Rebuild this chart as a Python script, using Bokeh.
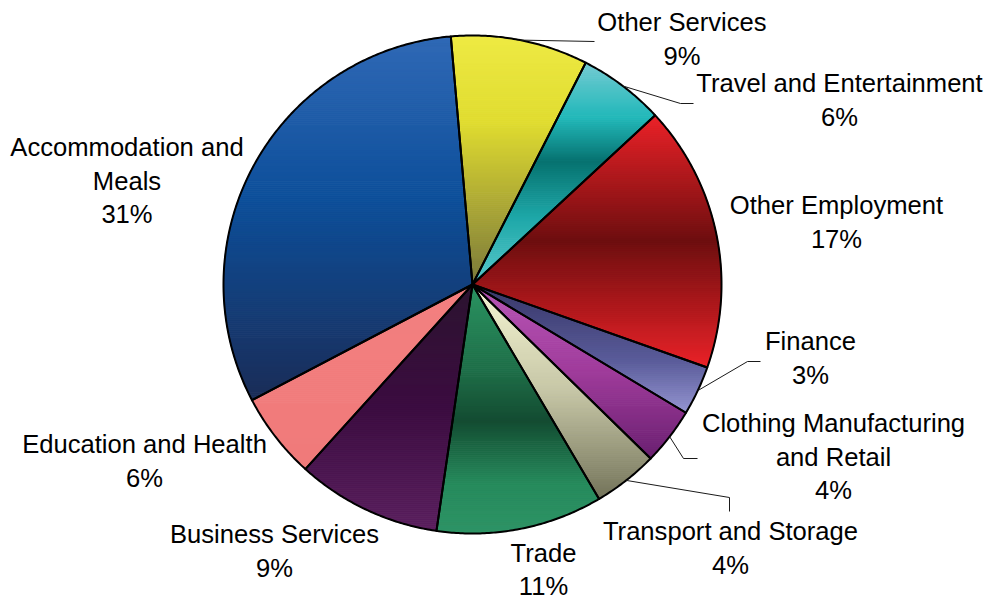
import math
from bokeh.plotting import figure
from bokeh.models import Range1d
from bokeh.core.properties import value
from bokeh.embed import file_html
from bokeh.resources import INLINE

# ---------------- data ----------------
categories = [
    "Other Services",
    "Travel and Entertainment",
    "Other Employment",
    "Finance",
    "Clothing Manufacturing\nand Retail",
    "Transport and Storage",
    "Trade",
    "Business Services",
    "Education and Health",
    "Accommodation and\nMeals",
]
shares = [8.9, 5.6, 17.3, 3.2, 3.7, 4.2, 10.8, 9.4, 5.6, 31.3]

# ---------------- styles / layout ----------------
W, H = 984, 599
CX, CY, R = 472.0, 284.0, 249.0
START_DEG = -5.0          # clockwise from 12 o'clock
FONT = "Liberation Sans"
FONT_SIZE = 25.6
LINE_STEP = 33.5

# vertical gradient stops per slice (t from top of slice bbox to bottom)
gradients = [
    [(0.0, "#eeea44"), (0.35, "#e0dc30"), (0.7, "#a9a536"), (1.0, "#7b7a3c")],
    [(0.0, "#74cbd3"), (0.25, "#22b8b9"), (0.45, "#077270"), (0.7, "#1ea8a8"), (1.0, "#5ac8cc")],
    [(0.0, "#ec2228"), (0.5, "#6e0f10"), (1.0, "#ea2228")],
    [(0.0, "#363666"), (0.6, "#5a5c9a"), (1.0, "#9494d0")],
    [(0.0, "#b857b6"), (0.5, "#a03c9c"), (1.0, "#6a2070")],
    [(0.0, "#f7f7d4"), (0.5, "#c6c6a6"), (1.0, "#74745a")],
    [(0.0, "#2b9462"), (0.35, "#1e6e48"), (0.55, "#144c32"), (0.8, "#268a5c"), (1.0, "#2e9466")],
    [(0.0, "#2c1430"), (0.5, "#3b0c40"), (1.0, "#5a1f5e")],
    [(0.0, "#f38080"), (1.0, "#f07a7a")],
    [(0.0, "#3069b6"), (0.45, "#0d4f9a"), (1.0, "#1b2d58")],
]

# label anchors: centre x, baseline of first line
label_pos = [
    (681.5, 21.5), (839, 82.5), (836, 204.5), (810, 340.5), (833, 422.5),
    (730, 530.5), (543, 552.0), (274, 533.5), (144, 443.5), (126.5, 146.5),
]
# leader line bend / end points (None = no leader)
leaders = [
    [(594, 41)],
    [(680, 103), (693, 103)],
    None,
    [(747, 361), (760, 361)],
    [(683, 458), (697, 458)],
    [(729, 497), (729, 511)],
    None, None, None, None,
]


def hex_to_rgb(h):
    h = h.lstrip("#")
    return tuple(int(h[i:i + 2], 16) for i in (0, 2, 4))


def interp(stops, t):
    t = min(max(t, 0.0), 1.0)
    for (t0, c0), (t1, c1) in zip(stops[:-1], stops[1:]):
        if t <= t1:
            f = 0.0 if t1 == t0 else (t - t0) / (t1 - t0)
            a, b = hex_to_rgb(c0), hex_to_rgb(c1)
            return "#%02x%02x%02x" % tuple(int(round(a[i] + (b[i] - a[i]) * f)) for i in range(3))
    return stops[-1][1]


def pt(theta_deg, r=R):
    th = math.radians(theta_deg)
    return CX + r * math.sin(th), CY - r * math.cos(th)


def clip(poly, yv, keep_ge):
    out = []
    n = len(poly)
    for i in range(n):
        cur = poly[i]
        prv = poly[i - 1]
        cin = cur[1] >= yv if keep_ge else cur[1] <= yv
        pin = prv[1] >= yv if keep_ge else prv[1] <= yv
        if cin:
            if not pin:
                f = (yv - prv[1]) / (cur[1] - prv[1])
                out.append((prv[0] + f * (cur[0] - prv[0]), yv))
            out.append(cur)
        elif pin:
            f = (yv - prv[1]) / (cur[1] - prv[1])
            out.append((prv[0] + f * (cur[0] - prv[0]), yv))
    return out


total = sum(shares)
p = figure(width=W, height=H, x_range=Range1d(0, W), y_range=Range1d(H, 0),
           output_backend="svg", toolbar_location=None, min_border=0,
           x_axis_location=None, y_axis_location=None)
p.grid.visible = False
p.outline_line_color = None
p.background_fill_color = "white"
p.border_fill_color = "white"

band_xs, band_ys, band_cols = [], [], []
out_xs, out_ys = [], []
mids = []
a = START_DEG
for i, v in enumerate(shares):
    span = 360.0 * v / total
    a0, a1 = a, a + span
    a = a1
    mids.append((a0 + a1) / 2)
    n = max(4, int(span / 0.5))
    poly = [(CX, CY)] + [pt(a0 + span * k / n) for k in range(n + 1)]
    out_xs.append([q[0] for q in poly])
    out_ys.append([q[1] for q in poly])
    ymin = min(q[1] for q in poly)
    ymax = max(q[1] for q in poly)
    nb = max(2, int((ymax - ymin) / 2.0))
    for b in range(nb):
        y0 = ymin + (ymax - ymin) * b / nb
        y1 = ymin + (ymax - ymin) * (b + 1) / nb
        sub = clip(clip(poly, y0, True), y1, False)
        if len(sub) < 3:
            continue
        band_xs.append([q[0] for q in sub])
        band_ys.append([q[1] for q in sub])
        band_cols.append(interp(gradients[i], (b + 0.5) / nb))

p.patches(band_xs, band_ys, fill_color=band_cols, line_color=band_cols, line_width=1)
p.patches(out_xs, out_ys, fill_alpha=0, line_color="black", line_width=2, line_join="round")

# leader lines
for i, ld in enumerate(leaders):
    if ld is None:
        continue
    sx, sy = pt(mids[i], R)
    xs = [sx] + [q[0] for q in ld]
    ys = [sy] + [q[1] for q in ld]
    p.line(xs, ys, line_color="#1a1a1a", line_width=1)

# labels
tx, ty, tt = [], [], []
for i, (cat, v) in enumerate(zip(categories, shares)):
    lines = cat.split("\n") + ["%d%%" % int(math.floor(v / total * 100 + 0.5))]
    x0, y0 = label_pos[i]
    for k, s in enumerate(lines):
        tx.append(x0)
        ty.append(y0 + k * LINE_STEP)
        tt.append(s)
p.text(x=tx, y=ty, text=tt, text_font=value(FONT), text_font_size="%.1fpx" % FONT_SIZE,
       text_align="center", text_baseline="alphabetic", text_color="black")

open("out.html", "w").write(file_html(p, INLINE))
